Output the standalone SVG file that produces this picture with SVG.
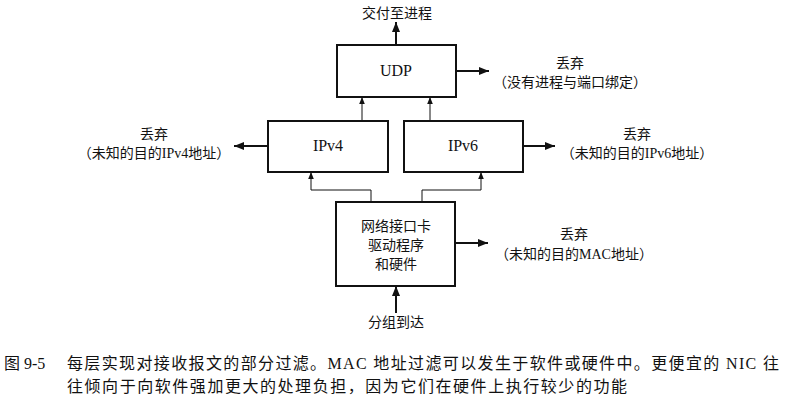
<svg xmlns="http://www.w3.org/2000/svg" width="798" height="405" viewBox="0 0 798 405">
<defs>
<style>
text{font-family:"Liberation Serif","Noto Sans CJK SC",serif;fill:#111;}
.lbl{font-size:14px;text-anchor:middle;}
.box{fill:#fff;stroke:#111;stroke-width:2;}
.name{font-size:16px;text-anchor:middle;}
.thick{stroke:#111;stroke-width:2;fill:none;}
.thin{stroke:#111;stroke-width:1;fill:none;}
.cap{font-size:16px;}
</style>
<marker id="ah" viewBox="0 0 10 8" refX="10" refY="4" markerWidth="5" markerHeight="4" orient="auto" markerUnits="strokeWidth"><path d="M0,0 L10,4 L0,8 Z" fill="#111"/></marker>
<marker id="ahs" viewBox="0 0 10 8" refX="10" refY="4" markerWidth="7" markerHeight="6" orient="auto" markerUnits="strokeWidth"><path d="M0,0 L10,4 L0,8 Z" fill="#111"/></marker>
</defs>
<rect width="798" height="405" fill="#fff"/>

<g id="connectors">
<line class="thick" x1="396" y1="45" x2="396" y2="22" marker-end="url(#ah)"/>
<line class="thick" x1="456" y1="71" x2="489" y2="71" marker-end="url(#ah)"/>
<line class="thin" x1="362" y1="121" x2="362" y2="97" marker-end="url(#ahs)"/>
<line class="thin" x1="430" y1="121" x2="430" y2="97" marker-end="url(#ahs)"/>
<line class="thick" x1="268" y1="146" x2="234" y2="146" marker-end="url(#ah)"/>
<line class="thick" x1="523" y1="146" x2="555" y2="146" marker-end="url(#ah)"/>
<polyline class="thin" points="371,202 371,190 311,190 311,172" marker-end="url(#ahs)"/>
<polyline class="thin" points="422,202 422,190 481,190 481,172" marker-end="url(#ahs)"/>
<line class="thick" x1="455" y1="243" x2="488" y2="243" marker-end="url(#ah)"/>
<line class="thick" x1="396" y1="313" x2="396" y2="286" marker-end="url(#ah)"/>
</g>

<g id="udp">
<rect class="box" x="337" y="45" width="119" height="52"/>
<text class="name" x="396" y="76">UDP</text>
</g>
<g id="ipv4">
<rect class="box" x="268" y="121" width="120" height="51"/>
<text class="name" x="328" y="151">IPv4</text>
</g>
<g id="ipv6">
<rect class="box" x="404" y="121" width="119" height="51"/>
<text class="name" x="463" y="151">IPv6</text>
</g>
<g id="nic">
<rect class="box" x="336" y="202" width="119" height="84"/>
<text class="lbl" x="396" y="231">网络接口卡</text>
<text class="lbl" x="396" y="250">驱动程序</text>
<text class="lbl" x="396" y="269">和硬件</text>
</g>

<g id="labels">
<text class="lbl" x="397" y="18">交付至进程</text>
<text class="lbl" x="570" y="68">丢弃</text>
<text class="lbl" x="570" y="87">（没有进程与端口绑定）</text>
<text class="lbl" x="154" y="139">丢弃</text>
<text class="lbl" x="154" y="158">（未知的目的IPv4地址）</text>
<text class="lbl" x="637" y="139">丢弃</text>
<text class="lbl" x="637" y="158">（未知的目的IPv6地址）</text>
<text class="lbl" x="574" y="239">丢弃</text>
<text class="lbl" x="574" y="259">（未知的目的MAC地址）</text>
<text class="lbl" x="396" y="327">分组到达</text>
</g>

<g id="caption">
<text class="cap" x="4" y="369">图 9-5</text>
<text class="cap" x="67" y="369" textLength="712" lengthAdjust="spacing">每层实现对接收报文的部分过滤。MAC 地址过滤可以发生于软件或硬件中。更便宜的 NIC 往</text>
<text class="cap" x="67" y="392" textLength="560" lengthAdjust="spacing">往倾向于向软件强加更大的处理负担，因为它们在硬件上执行较少的功能</text>
</g>
</svg>
